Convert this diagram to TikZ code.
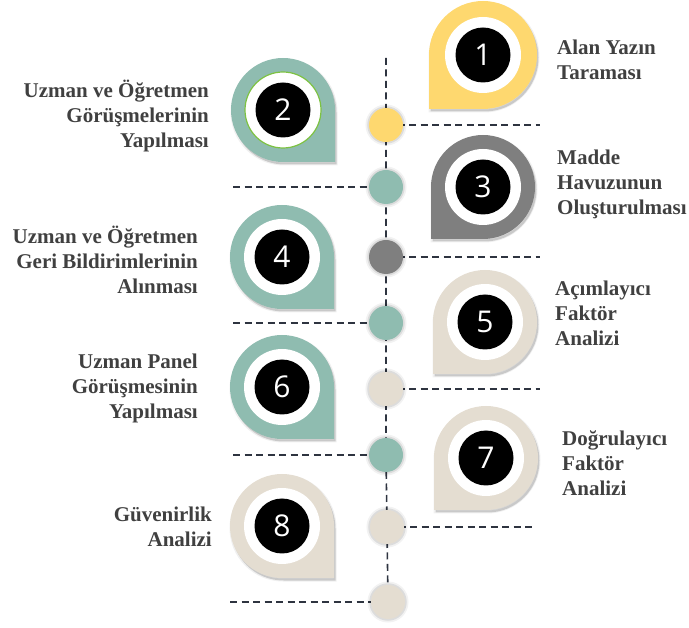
\documentclass[tikz,border=0pt]{standalone}
\usepackage{fontspec}
\setmainfont{Liberation Serif}
\newfontfamily\numfont{Open Sans}
\usetikzlibrary{calc}
\definecolor{cyel}{HTML}{FED86F}
\definecolor{cteal}{HTML}{8FBCB0}
\definecolor{cgray}{HTML}{7F7F7F}
\definecolor{cbeige}{HTML}{E4DDD1}
\definecolor{ctext}{HTML}{404040}
\definecolor{cdash}{HTML}{2E3440}
\definecolor{clime}{HTML}{7DC242}
% right-side pin: sharp corner bottom-left
\newcommand{\rpinshape}[4]{% cx, cy, R, colour
  \begin{scope}[shift={(#1,#2)}]
    \fill[black,opacity=0.16,shift={(1.5,2.5)}] (-#3,0) -- (-#3,#3) -- (0,#3) arc[start angle=90,end angle=-180,radius=#3] -- cycle;
    \draw[black,opacity=0.06,line width=3pt,shift={(1,2)}] (-#3,0) -- (-#3,#3) -- (0,#3) arc[start angle=90,end angle=-180,radius=#3] -- cycle;
    \fill[#4] (-#3,0) -- (-#3,#3) -- (0,#3) arc[start angle=90,end angle=-180,radius=#3] -- cycle;
  \end{scope}}
% left-side pin: sharp corner bottom-right
\newcommand{\lpinshape}[4]{%
  \begin{scope}[shift={(#1,#2)}]
    \fill[black,opacity=0.16,shift={(1.5,2.5)}] (#3,0) -- (#3,#3) -- (0,#3) arc[start angle=90,end angle=360,radius=#3] -- cycle;
    \draw[black,opacity=0.06,line width=3pt,shift={(1,2)}] (#3,0) -- (#3,#3) -- (0,#3) arc[start angle=90,end angle=360,radius=#3] -- cycle;
    \fill[#4] (#3,0) -- (#3,#3) -- (0,#3) arc[start angle=90,end angle=360,radius=#3] -- cycle;
  \end{scope}}
\begin{document}
\begin{tikzpicture}[x=1pt,y=-1pt,
  dot/.style={circle,minimum size=34pt,inner sep=0pt,
    preaction={draw=black,opacity=0.05,line width=7pt},
    preaction={draw=black,opacity=0.09,line width=3.5pt}},
  dashline/.style={draw=cdash,line width=1.6pt,dash pattern=on 7pt off 4.5pt},
  ring/.style={circle,fill=white,minimum size=76pt,inner sep=0pt},
  numbox/.style={circle,fill=black,minimum size=55pt,inner sep=0pt,text=white,
    font=\numfont\fontsize{30}{30}\selectfont},
  lbl/.style={inner sep=0pt,text=ctext,font=\fontsize{21}{25}\selectfont\bfseries}]
\useasboundingbox (0,0) rectangle (689,628);

% pins
\rpinshape{483}{55}{54}{cyel}
\lpinshape{283}{110}{52}{cteal}
\rpinshape{483}{187}{52}{cgray}
\lpinshape{282}{257}{52}{cteal}
\rpinshape{485}{322}{52}{cbeige}
\lpinshape{282}{387}{52}{cteal}
\rpinshape{486}{458}{52}{cbeige}
\lpinshape{282}{526}{52}{cbeige}

% rings and numbers
\node[ring] (r1) at (483,55) {};
\node[ring,draw=clime,line width=1.2pt] (r2) at (283,110) {};
\node[ring] (r3) at (483,187) {};
\node[ring] (r4) at (282,257) {};
\node[ring] (r5) at (485,322) {};
\node[ring] (r6) at (282,387) {};
\node[ring] (r7) at (486,458) {};
\node[ring] (r8) at (282,526) {};
\node[numbox] (n1) at (r1) {1};
\node[numbox] (n2) at (r2) {2};
\node[numbox] (n3) at (r3) {3};
\node[numbox] (n4) at (r4) {4};
\node[numbox] (n5) at (r5) {5};
\node[numbox] (n6) at (r6) {6};
\node[numbox] (n7) at (r7) {7};
\node[numbox] (n8) at (r8) {8};

% timeline
\coordinate (top) at (386,58);
\coordinate (h1) at (540,125);
\coordinate (h2) at (233,187);
\coordinate (h3) at (540,257);
\coordinate (h4) at (233,323);
\coordinate (h5) at (540,389);
\coordinate (h6) at (233,455);
\coordinate (h7) at (536,527);
\coordinate (h8) at (230,602);
\path (386,125) coordinate (p1) (386,187) coordinate (p2) (386,257) coordinate (p3)
      (386,323) coordinate (p4) (386,389) coordinate (p5) (386,455) coordinate (p6)
      (387,527) coordinate (p7) (388,602) coordinate (p8);
\draw[dashline] (top) -- (p1) -- (p2) -- (p3) -- (p4) -- (p5) -- (p6) -- (p7) -- (p8);
\draw[dashline] (p1) -- (h1);
\draw[dashline] (h2) -- (p2);
\draw[dashline] (p3) -- (h3);
\draw[dashline] (h4) -- (p4);
\draw[dashline] (p5) -- (h5);
\draw[dashline] (h6) -- (p6);
\draw[dashline] (p7) -- (h7);
\draw[dashline] (h8) -- (p8);
\node[dot,fill=cyel] (c1) at (p1) {};
\node[dot,fill=cteal] (c2) at (p2) {};
\node[dot,fill=cgray] (c3) at (p3) {};
\node[dot,fill=cteal] (c4) at (p4) {};
\node[dot,fill=cbeige] (c5) at (p5) {};
\node[dot,fill=cteal] (c6) at (p6) {};
\node[dot,fill=cbeige] (c7) at (p7) {};
\node[dot,fill=cbeige] (c8) at (p8) {};

% labels
\node[lbl,align=left,anchor=west] (t1) at (557,60) {Alan Yazın\\Taraması};
\node[lbl,align=right,anchor=east] (t2) at (209,116) {Uzman ve Öğretmen\\Görüşmelerinin\\Yapılması};
\node[lbl,align=left,anchor=west] (t3) at (557,184) {Madde\\Havuzunun\\Oluşturulması};
\node[lbl,align=right,anchor=east] (t4) at (198,260) {Uzman ve Öğretmen\\Geri Bildirimlerinin\\Alınması};
\node[lbl,align=left,anchor=west] (t5) at (555,313) {Açımlayıcı\\Faktör\\Analizi};
\node[lbl,align=right,anchor=east] (t6) at (198,388) {Uzman Panel\\Görüşmesinin\\Yapılması};
\node[lbl,align=left,anchor=west] (t7) at (562,463) {Doğrulayıcı\\Faktör\\Analizi};
\node[lbl,align=right,anchor=east] (t8) at (212,527) {Güvenirlik\\Analizi};
\end{tikzpicture}
\end{document}
